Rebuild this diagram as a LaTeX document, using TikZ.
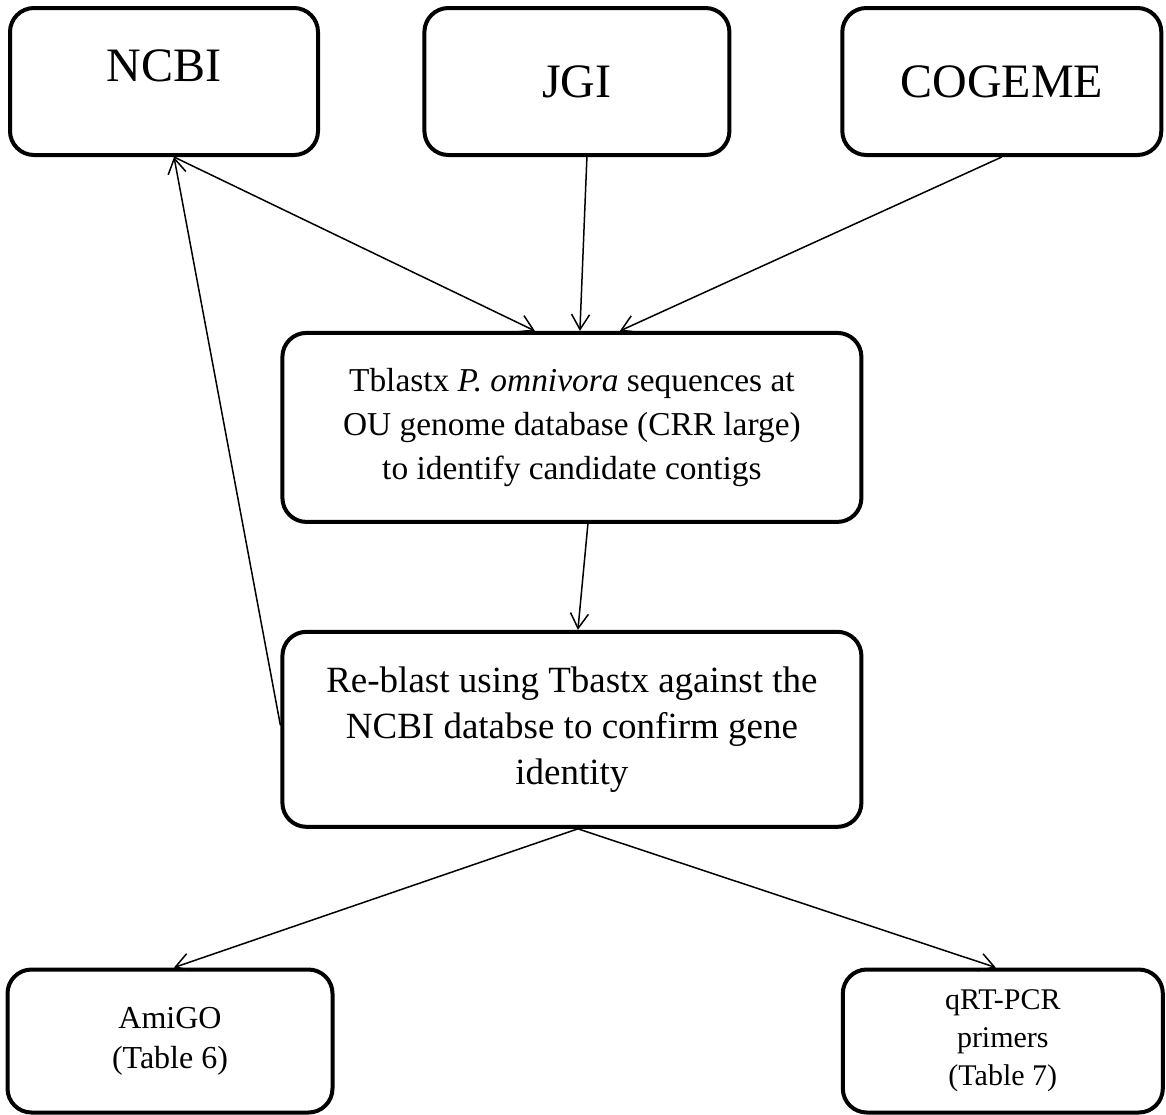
\documentclass[tikz,border=0pt]{standalone}
\usepackage{fontspec}
\setmainfont{Liberation Serif}
\usetikzlibrary{shapes,positioning,arrows.meta}
\begin{document}
\begin{tikzpicture}
\tikzstyle{src}=[rectangle,draw,rounded corners=12pt,line width=2pt,minimum width=154pt,minimum height=73.5pt,font=\fontsize{24}{28}\selectfont]
\tikzstyle{proc}=[rectangle,draw,rounded corners=12pt,line width=2pt,minimum width=289.5pt,align=center]
\tikzstyle{res}=[rectangle,draw,rounded corners=12pt,line width=2pt,minimum width=162pt,minimum height=71.5pt,align=center,font=\fontsize{15}{19}\selectfont]
\tikzstyle{link}=[-{Straight Barb[length=7.5pt,width=9pt]},line width=0.75pt]
\useasboundingbox (0,0) rectangle (583pt,-557pt);
% Databases
\node[src,text depth=15.5pt] (ncbi) at (82pt,-40.75pt) {NCBI};
\node[src,right of=ncbi,xshift=178pt,minimum width=152.5pt] (jgi) {JGI};
\node[src,right of=jgi,xshift=184pt,minimum width=159.5pt] (cogeme) {COGEME};
% Search steps
\node[proc,below of=jgi,xshift=-2.5pt,yshift=-144.5pt,minimum height=94.5pt,font=\fontsize{16.7}{22}\selectfont] (tblastx) {Tblastx \textit{P. omnivora} sequences at\\OU genome database (CRR large)\\to identify candidate contigs};
\node[proc,below of=tblastx,yshift=-122.5pt,minimum height=97.5pt,font=\fontsize{18.5}{23}\selectfont] (reblast) {Re-blast using Tbastx against the\\NCBI databse to confirm gene\\identity};
% Results
\node[res,below of=ncbi,xshift=3pt,yshift=-451.3pt,minimum width=162.5pt,font=\fontsize{16}{20}\selectfont] (amigo) {AmiGO\\(Table 6)};
\node[res,below of=cogeme,xshift=0.5pt,yshift=-451.3pt,minimum width=160pt] (qrt) {qRT-PCR\\primers\\(Table 7)};
% Arrows
\draw[link] ([xshift=5pt]ncbi.south) -- ([xshift=-18.5pt]tblastx.north);
\draw[link] ([xshift=5pt]jgi.south) -- ([xshift=4pt]tblastx.north);
\draw[link] (cogeme.south) -- ([xshift=24pt]tblastx.north);
\draw[link] ([xshift=8pt]tblastx.south) -- ([xshift=3pt]reblast.north);
\draw[link] ([yshift=2pt]reblast.west) -- ([xshift=5pt]ncbi.south);
\draw[link] ([xshift=3pt]reblast.south) -- ([xshift=2pt]amigo.north);
\draw[link] ([xshift=3pt]reblast.south) -- ([xshift=-3.5pt]qrt.north);
\end{tikzpicture}
\end{document}
